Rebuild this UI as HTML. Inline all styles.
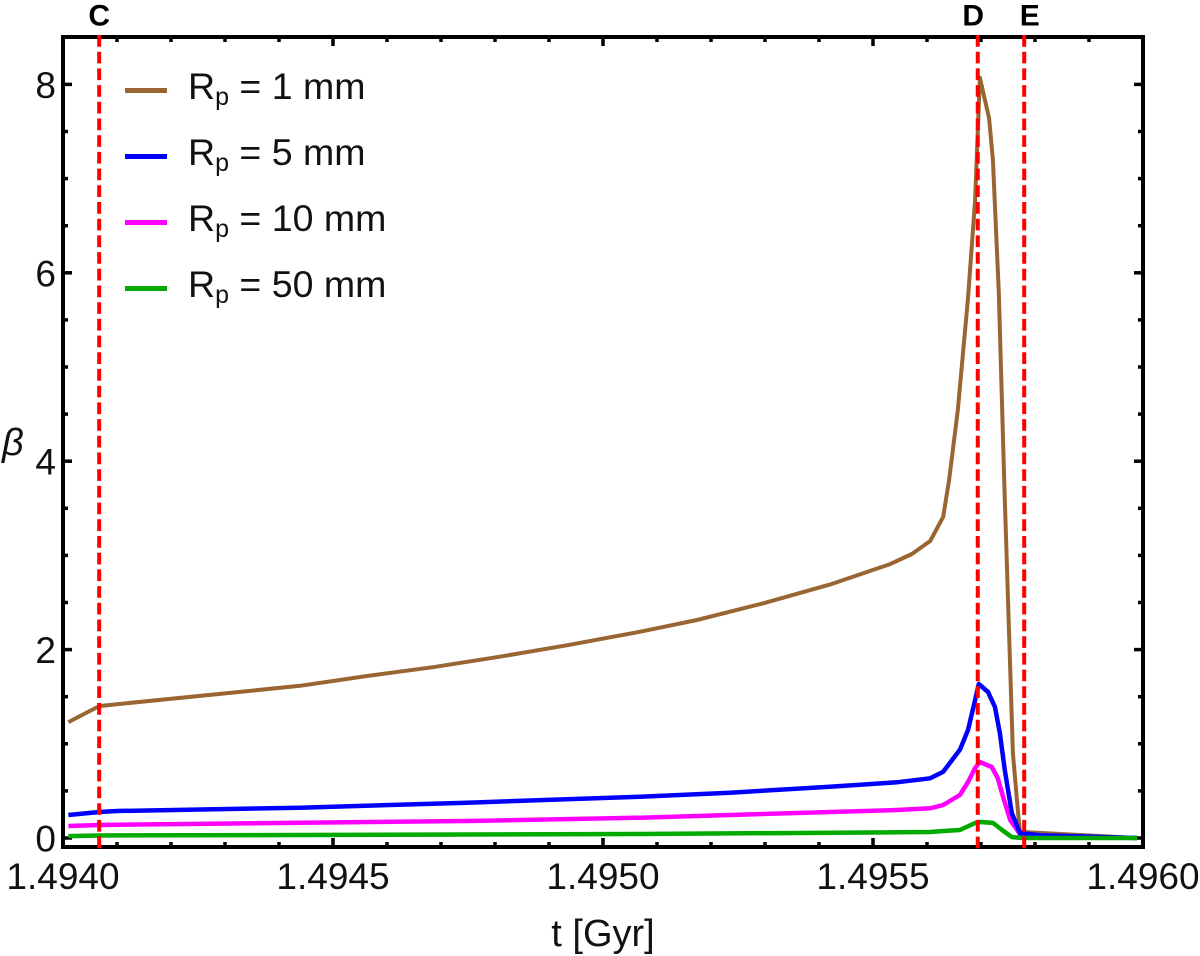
<!DOCTYPE html>
<html lang="en">
<head>
<meta charset="utf-8">
<title>Beta versus time</title>
<style>
html,body{margin:0;padding:0;background:#fff}
svg{display:block}
text{font-family:"Liberation Sans",sans-serif;fill:#111}
</style>
</head>
<body>
<svg id="chart" xmlns="http://www.w3.org/2000/svg" width="1200" height="956" viewBox="0 0 1200 956">
  <rect width="1200" height="956" fill="#fff"/>
  <g id="ticks"></g>
  <g id="labels"></g>
  <g id="series"></g>
  <rect x="63" y="37" width="1080" height="810" fill="none" stroke="#000" stroke-width="4"/>
  <g id="markers"></g>
  <text x="603" y="946" font-size="38" text-anchor="middle">t [Gyr]</text>
  <text x="2" y="455" font-size="38" font-style="italic">β</text>
  <g>
    <g>
      <line x1="125" x2="167" y1="90.5" y2="90.5" stroke="#996633" stroke-width="5"/>
      <text x="188" y="99" font-size="37.5">R<tspan font-size="25" dy="6">p</tspan><tspan dy="-6"> = 1 mm</tspan></text>
    </g>
    <g>
      <line x1="125" x2="167" y1="156.5" y2="156.5" stroke="#0000ff" stroke-width="5"/>
      <text x="188" y="165" font-size="37.5">R<tspan font-size="25" dy="6">p</tspan><tspan dy="-6"> = 5 mm</tspan></text>
    </g>
    <g>
      <line x1="125" x2="167" y1="222.5" y2="222.5" stroke="#ff00ff" stroke-width="5"/>
      <text x="188" y="231" font-size="37.5">R<tspan font-size="25" dy="6">p</tspan><tspan dy="-6"> = 10 mm</tspan></text>
    </g>
    <g>
      <line x1="125" x2="167" y1="288.5" y2="288.5" stroke="#00aa00" stroke-width="5"/>
      <text x="188" y="297" font-size="37.5">R<tspan font-size="25" dy="6">p</tspan><tspan dy="-6"> = 50 mm</tspan></text>
    </g>
  </g>
</svg>
<script>
const xTickLabels = ["1.4940", "1.4945", "1.4950", "1.4955", "1.4960"];
const xTickValues = [1.494, 1.4945, 1.495, 1.4955, 1.496];
const yTickValues = [0, 2, 4, 6, 8];

const markerNames = ["C", "D", "E"];
const markerTimes = [1.494067, 1.495694, 1.495780];

const timeBrown = [1.49401, 1.494067, 1.4941, 1.494439, 1.494563, 1.494685, 1.494809, 1.494933, 1.495069, 1.495174, 1.495296, 1.49542, 1.495531, 1.495572, 1.495606, 1.49563, 1.495641, 1.495657, 1.495676, 1.495689, 1.495698, 1.495715, 1.495722, 1.495733, 1.495743, 1.49575, 1.495759, 1.495767, 1.495772, 1.495778, 1.495989];
const betaBrown = [1.23, 1.40, 1.42, 1.616, 1.72, 1.813, 1.925, 2.046, 2.19, 2.314, 2.49, 2.69, 2.905, 3.015, 3.153, 3.41, 3.80, 4.54, 5.73, 6.77, 8.07, 7.64, 7.20, 5.79, 3.80, 2.53, 0.90, 0.37, 0.064, 0.064, 0.0];

const timeBlue = [1.49401, 1.494067, 1.4941, 1.494439, 1.494748, 1.495069, 1.495235, 1.49542, 1.495544, 1.495606, 1.49563, 1.495661, 1.495676, 1.495689, 1.495696, 1.495713, 1.495726, 1.495735, 1.495744, 1.495757, 1.495772, 1.495809, 1.495989];
const betaBlue = [0.244, 0.276, 0.287, 0.322, 0.375, 0.438, 0.481, 0.545, 0.591, 0.634, 0.704, 0.936, 1.146, 1.465, 1.635, 1.55, 1.39, 1.11, 0.72, 0.265, 0.053, 0.03, 0.0];

const timeMagenta = [1.49401, 1.494067, 1.494439, 1.494748, 1.495069, 1.495296, 1.495544, 1.495606, 1.49563, 1.495661, 1.495676, 1.495689, 1.495698, 1.49572, 1.495731, 1.495741, 1.495754, 1.495772, 1.495809, 1.495989];
const betaMagenta = [0.127, 0.138, 0.162, 0.18, 0.215, 0.255, 0.297, 0.315, 0.35, 0.456, 0.594, 0.743, 0.807, 0.754, 0.637, 0.435, 0.19, 0.042, 0.02, 0.0];

const timeGreen = [1.49401, 1.494067, 1.494439, 1.495069, 1.495544, 1.495606, 1.49563, 1.495661, 1.495689, 1.495698, 1.495722, 1.495739, 1.495757, 1.495778, 1.495989];
const betaGreen = [0.02, 0.027, 0.032, 0.042, 0.06, 0.064, 0.074, 0.085, 0.159, 0.17, 0.16, 0.085, 0.01, 0.0, 0.0];

const NS = "http://www.w3.org/2000/svg";
const xScale = t => 63 + (t - 1.494) * 540000;
const yScale = b => 838 - b * 94.2;

function make(tag, parent, attrs) {
  const el = document.createElementNS(NS, tag);
  Object.keys(attrs).forEach(k => el.setAttribute(k, attrs[k]));
  parent.appendChild(el);
  return el;
}

const ticksGroup = document.getElementById("ticks");
const labelsGroup = document.getElementById("labels");
const seriesGroup = document.getElementById("series");
const markersGroup = document.getElementById("markers");

// x ticks: every 0.0001, major every 0.0005
for (let i = 0; i <= 20; i++) {
  const px = xScale(1.494 + i * 0.0001);
  const len = i % 5 === 0 ? 9 : 5;
  const bottom = make("line", ticksGroup, {x1: px, x2: px, y1: 847, y2: 847 - len, stroke: "#000", "stroke-width": 3.5});
  
  
  const top = make("line", ticksGroup, {x1: px, x2: px, y1: 37, y2: 37 + len, stroke: "#000", "stroke-width": 3.5});
  
  
}

// y ticks: every 0.5, major every 2
for (let i = 0; i <= 16; i++) {
  const py = yScale(i * 0.5);
  const len = i % 4 === 0 ? 9 : 5;
  const left = make("line", ticksGroup, {x1: 63, x2: 63 + len, y1: py, y2: py, stroke: "#000", "stroke-width": 3.5});
  
  
  const right = make("line", ticksGroup, {x1: 1143, x2: 1143 - len, y1: py, y2: py, stroke: "#000", "stroke-width": 3.5});
  
  
}

xTickValues.forEach((v, i) => {
  const label = make("text", labelsGroup, {x: xScale(v), y: 889, "font-size": 37, "text-anchor": "middle"});
  label.textContent = xTickLabels[i];
  
  
});

yTickValues.forEach(v => {
  const label = make("text", labelsGroup, {x: 56, y: yScale(v) + 13.5, "font-size": 37, "text-anchor": "end"});
  label.textContent = String(v);
  
  
});

function drawSeries(times, betas, color, width) {
  const pts = times.map((t, i) => xScale(t).toFixed(1) + "," + yScale(betas[i]).toFixed(1)).join(" ");
  return make("polyline", seriesGroup, {points: pts, fill: "none", stroke: color, "stroke-width": width, "stroke-linejoin": "round"});
}

const lineBrown = drawSeries(timeBrown, betaBrown, "#996633", 4);


const lineMagenta = drawSeries(timeMagenta, betaMagenta, "#ff00ff", 4.5);


const lineBlue = drawSeries(timeBlue, betaBlue, "#0000ff", 4.5);


const lineGreen = drawSeries(timeGreen, betaGreen, "#00aa00", 4.5);



markerTimes.forEach((t, i) => {
  const px = xScale(t);
  const line = make("line", markersGroup, {x1: px, x2: px, y1: 35, y2: 849, stroke: "#ff0000", "stroke-width": 4, "stroke-dasharray": "11.7 5"});
  
  
  const offsets = [0, -4.5, 5.5];
  const label = make("text", markersGroup, {x: px + offsets[i], y: 25.5, "font-size": 30, "font-weight": "bold", "text-anchor": "middle"});
  label.style.fill = "#000";
  label.textContent = markerNames[i];
  
  
});
</script>
</body>
</html>
